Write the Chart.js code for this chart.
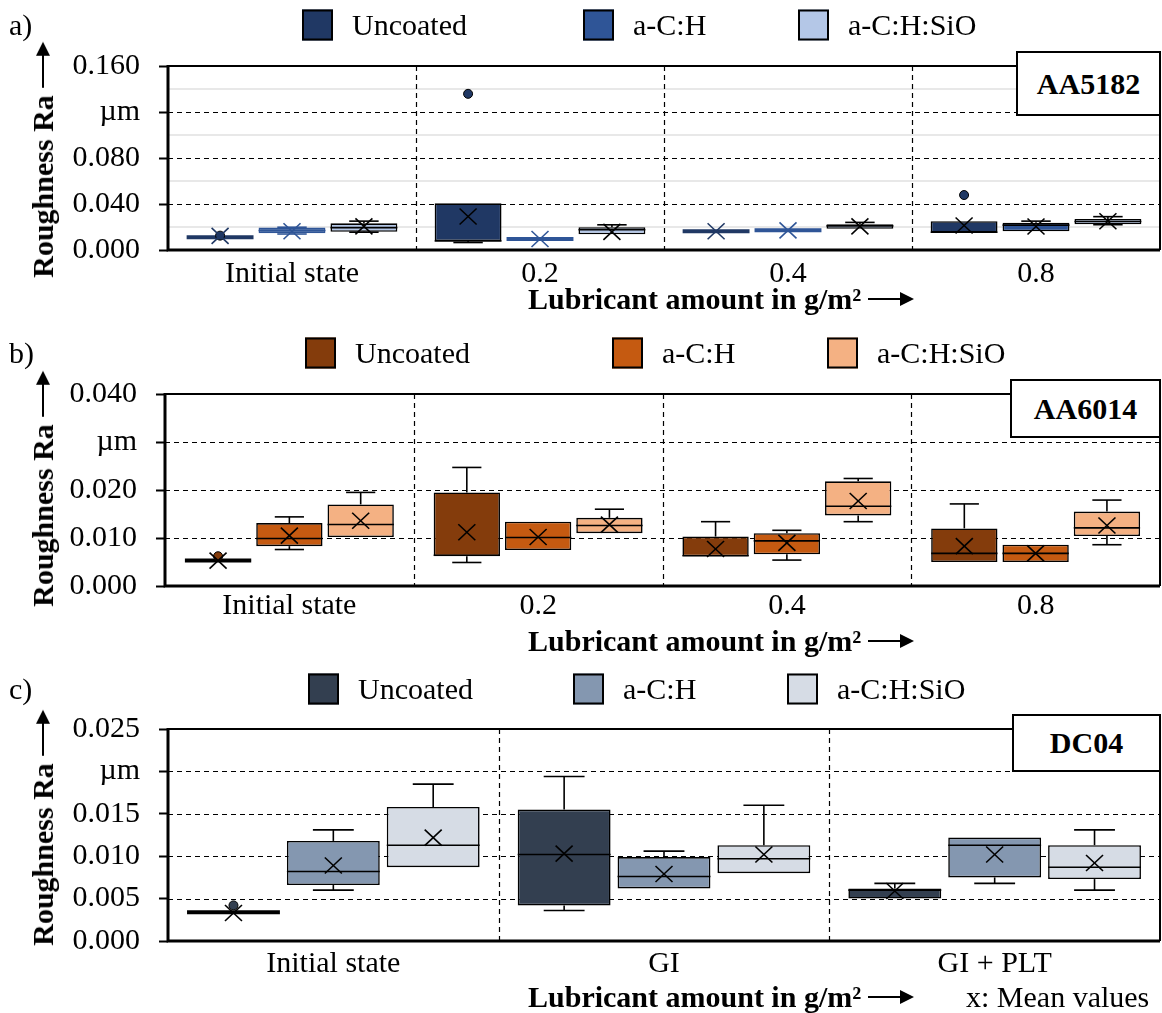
<!DOCTYPE html>
<html>
<head>
<meta charset="utf-8">
<script src="https://cdn.jsdelivr.net/npm/chart.js@4/dist/chart.umd.min.js"></script>
<style>
  body { margin: 0; background: #fff; width: 1162px; height: 1013px; position: relative; overflow: hidden;
         font-family: 'Liberation Serif', 'Times New Roman', serif; color: #000; }
  canvas { position: absolute; left: 0; }
  .t { position: absolute; font-size: 30px; line-height: 30px; white-space: nowrap; transform: translateY(-50%); }
  .sq { position: absolute; width: 31px; height: 31px; box-sizing: border-box; border: 2px solid #000; transform: translateY(-50%); }
  .tag { position: absolute; background: #fff; border: 2px solid #000; box-sizing: border-box;
         font-weight: bold; font-size: 30px; display: flex; align-items: center; justify-content: center; }
  .ttl { position: absolute; display: flex; align-items: center; font-weight: bold; font-size: 30px; white-space: nowrap; }
  .arrow { display: inline-block; position: relative; height: 2px; background: #000; margin-left: 7px; }
  .arrow::after { content: ''; position: absolute; right: -2px; top: -6px; border-left: 14px solid #000;
                  border-top: 7px solid transparent; border-bottom: 7px solid transparent; }
</style>
</head>
<body>
<script>
// ---- data ----
const seriesNames = ['Uncoated', 'a-C:H', 'a-C:H:SiO'];

// a) AA5182, boxes are [min, q1, median, q3, max]
const categoriesA = ['Initial state', '0.2', '0.4', '0.8'];
const ticksA = ['0.000', '0.040', '0.080', 'µm', '0.160'];
const aUncoated = [[0.0110, 0.0110, 0.0110, 0.0110, 0.0110], [0.0065, 0.0078, 0.0078, 0.0406, 0.0406], [0.0163, 0.0163, 0.0163, 0.0163, 0.0163], [0.0152, 0.0152, 0.0155, 0.0251, 0.0251]];
const aUncoatedMean = [0.0123, 0.0291, 0.0163, 0.0213];
const aUncoatedOutliers = [[0.0125], [0.1358], [], [0.0478]];
const aCH = [[0.0139, 0.0145, 0.0170, 0.0195, 0.0198], [0.0096, 0.0096, 0.0096, 0.0096, 0.0096], [0.0171, 0.0171, 0.0171, 0.0171, 0.0171], [0.0163, 0.0163, 0.0216, 0.0238, 0.0251]];
const aCHMean = [0.0163, 0.0096, 0.0171, 0.0204];
const aSiO = [[0.0155, 0.0158, 0.0195, 0.0232, 0.0251], [0.0136, 0.0136, 0.0176, 0.0198, 0.0219], [0.0184, 0.0184, 0.0210, 0.0224, 0.0240], [0.0220, 0.0224, 0.0248, 0.0270, 0.0290]];
const aSiOMean = [0.0206, 0.0158, 0.0206, 0.0250];

// b) AA6014
const categoriesB = ['Initial state', '0.2', '0.4', '0.8'];
const ticksB = ['0.000', '0.010', '0.020', 'µm', '0.040'];
const bUncoated = [[0.0052, 0.0052, 0.0053, 0.0054, 0.0054], [0.0049, 0.0062, 0.0064, 0.0195, 0.0247], [0.0062, 0.0062, 0.0063, 0.0103, 0.0134], [0.0050, 0.0050, 0.0068, 0.0120, 0.0171]];
const bUncoatedMean = [0.0053, 0.0112, 0.0077, 0.0083];
const bUncoatedOutliers = [[0.0062], [], [], []];
const bCH = [[0.0076, 0.0083, 0.0099, 0.0131, 0.0144], [0.0075, 0.0075, 0.0101, 0.0134, 0.0134], [0.0054, 0.0066, 0.0094, 0.0110, 0.0116], [0.0050, 0.0050, 0.0068, 0.0086, 0.0086]];
const bCHMean = [0.0105, 0.0102, 0.0090, 0.0068];
const bSiO = [[0.0102, 0.0102, 0.0128, 0.0170, 0.0195], [0.0110, 0.0110, 0.0126, 0.0142, 0.0160], [0.0134, 0.0147, 0.0166, 0.0218, 0.0224], [0.0086, 0.0104, 0.0121, 0.0155, 0.0179]];
const bSiOMean = [0.0136, 0.0128, 0.0177, 0.0126];

// c) DC04
const categoriesC = ['Initial state', 'GI', 'GI + PLT'];
const ticksC = ['0.000', '0.005', '0.010', '0.015', 'µm', '0.025'];
const cUncoated = [[0.0034, 0.0034, 0.0034, 0.0034, 0.0034], [0.0036, 0.0042, 0.0102, 0.0155, 0.0194], [0.0050, 0.0050, 0.0060, 0.0062, 0.0068]];
const cUncoatedMean = [0.0033, 0.0103, 0.0059];
const cUncoatedOutliers = [[0.0042], [], []];
const cCH = [[0.0060, 0.0066, 0.0082, 0.0118, 0.0131], [0.0062, 0.0062, 0.0076, 0.0099, 0.0106], [0.0068, 0.0075, 0.0113, 0.0122, 0.0122]];
const cCHMean = [0.0089, 0.0079, 0.0102];
const cSiO = [[0.0087, 0.0087, 0.0113, 0.0158, 0.0185], [0.0080, 0.0080, 0.0097, 0.0113, 0.0160], [0.0060, 0.0073, 0.0087, 0.0113, 0.0131]];
const cSiOMean = [0.0122, 0.0102, 0.0092];

// ---- drawing helpers ----
const FONT = "'Liberation Serif', 'Times New Roman', serif";

const decoPlugin = {
  id: 'deco',
  beforeDatasetsDraw(chart, args, opts) {
    const { ctx, chartArea: a } = chart;
    const y = chart.scales.y, x = chart.scales.x;
    ctx.save();
    // light minor lines
    ctx.strokeStyle = '#e8e8e8';
    ctx.lineWidth = 2;
    (opts.minor || []).forEach(v => {
      const py = Math.round(y.getPixelForValue(v));
      ctx.beginPath(); ctx.moveTo(a.left, py); ctx.lineTo(a.right, py); ctx.stroke();
    });
    // dashed major lines
    ctx.strokeStyle = '#000';
    ctx.lineWidth = 1.2;
    ctx.setLineDash([5, 4]);
    y.ticks.slice(1, -1).forEach(t => {
      const py = Math.round(y.getPixelForValue(t.value)) + 0.5;
      ctx.beginPath(); ctx.moveTo(a.left, py); ctx.lineTo(a.right, py); ctx.stroke();
    });
    // category separators
    for (let i = 0; i < x.ticks.length - 1; i++) {
      const px = Math.round((x.getPixelForValue(i) + x.getPixelForValue(i + 1)) / 2) + 0.5;
      ctx.beginPath(); ctx.moveTo(px, a.top); ctx.lineTo(px, a.bottom); ctx.stroke();
    }
    ctx.restore();
  },
  afterDatasetsDraw(chart) {
    const { ctx } = chart;
    const y = chart.scales.y;
    chart.data.datasets.forEach((ds, i) => {
      const meta = chart.getDatasetMeta(i);
      meta.data.forEach((bar, j) => {
        const [mn, q1, md, q3, mx] = ds.stats[j];
        const cx = bar.x, w = bar.width, cap = w * 0.22;
        const plain = ds.plain.includes(j);
        const ink = plain ? ds.backgroundColor : '#000';
        ctx.save();
        ctx.strokeStyle = ink;
        ctx.lineWidth = 1.6;
        const seg = (x1, y1, x2, y2) => { ctx.beginPath(); ctx.moveTo(x1, y1); ctx.lineTo(x2, y2); ctx.stroke(); };
        if (mx > q3) {
          seg(cx, y.getPixelForValue(q3), cx, y.getPixelForValue(mx));
          seg(cx - cap, y.getPixelForValue(mx), cx + cap, y.getPixelForValue(mx));
        }
        if (mn < q1) {
          seg(cx, y.getPixelForValue(q1), cx, y.getPixelForValue(mn));
          seg(cx - cap, y.getPixelForValue(mn), cx + cap, y.getPixelForValue(mn));
        }
        const flat = y.getPixelForValue(q1) - y.getPixelForValue(q3) < 2;
        ctx.lineWidth = flat ? 4 : 1.6;
        seg(cx - w / 2, y.getPixelForValue(md), cx + w / 2, y.getPixelForValue(md));
        // outliers
        (ds.outliers[j] || []).forEach(v => {
          ctx.beginPath();
          ctx.arc(cx, y.getPixelForValue(v), 4.5, 0, Math.PI * 2);
          ctx.fillStyle = ds.backgroundColor;
          ctx.fill();
          ctx.lineWidth = 1;
          ctx.strokeStyle = '#000';
          ctx.stroke();
        });
        // mean marker
        const my = y.getPixelForValue(ds.means[j]);
        ctx.strokeStyle = ink;
        ctx.lineWidth = 1.6;
        seg(cx - 8.5, my - 8, cx + 8.5, my + 8);
        seg(cx - 8.5, my + 8, cx + 8.5, my - 8);
        ctx.restore();
      });
    });
  },
  afterDraw(chart) {
    const { ctx, chartArea: a } = chart;
    ctx.save();
    ctx.strokeStyle = '#000';
    ctx.lineWidth = 2;
    ctx.beginPath(); ctx.moveTo(a.left, a.top); ctx.lineTo(a.right, a.top); ctx.lineTo(a.right, a.bottom); ctx.stroke();
    ctx.lineWidth = 3;
    ctx.beginPath(); ctx.moveTo(a.left, a.top - 1); ctx.lineTo(a.left, a.bottom); ctx.lineTo(a.right, a.bottom); ctx.stroke();
    ctx.restore();
  }
};

function addText(html, left, cy, cls) {
  const d = document.createElement('div');
  d.className = cls || 't';
  d.innerHTML = html;
  d.style.left = left + 'px';
  d.style.top = cy + 'px';
  document.body.appendChild(d);
  return d;
}

function makePanel(p) {
  const cv = document.createElement('canvas');
  const top = p.plotTop - 22;
  const h = 22 + (p.plotBottom - p.plotTop) + 40;
  cv.width = 1162; cv.height = h;
  cv.style.top = top + 'px';
  document.body.appendChild(cv);

  const datasets = p.series.map((s, i) => ({
    label: seriesNames[i],
    data: s.stats.map(b => [b[1], b[3]]),
    stats: s.stats, means: s.means, outliers: s.outliers || [], plain: s.plain || [],
    backgroundColor: p.colors[i],
    borderColor: ctx => (s.plain || []).includes(ctx.dataIndex) ? p.colors[i] : '#000',
    borderWidth: 1.6,
    borderSkipped: false,
    categoryPercentage: p.catPct,
    barPercentage: 0.93
  }));

  new Chart(cv, {
    type: 'bar',
    data: { labels: p.categories, datasets },
    options: {
      responsive: false, animation: false, devicePixelRatio: 1,
      layout: { padding: { top: 22, right: 2, left: 0, bottom: 0 } },
      plugins: { legend: { display: false }, tooltip: { enabled: false }, deco: { minor: p.minor || [] } },
      scales: {
        x: {
          grid: { display: false }, border: { display: false },
          ticks: { color: '#000', font: { family: FONT, size: 30 }, padding: p.labelPad, maxRotation: 0, autoSkip: false },
          afterFit: s => { s.height = 40; }
        },
        y: {
          min: 0, max: p.max,
          grid: { drawOnChartArea: false, tickLength: 9, tickWidth: 2, tickColor: '#000' },
          border: { display: false },
          ticks: { stepSize: p.step, color: '#000', font: { family: FONT, size: 30 }, padding: 19,
                   callback: (v, i) => p.tickLabels[i] },
          afterFit: s => { s.width = p.left; }
        }
      }
    },
    plugins: [decoPlugin]
  });

  // panel letter, legend, tag, titles
  addText(p.letter, 9, p.legendY);
  p.legendX.forEach((lx, i) => {
    const sq = addText('', lx, p.legendY, 'sq');
    sq.style.background = p.colors[i];
    addText(seriesNames[i], lx + 50, p.legendY);
  });
  const tag = addText(p.tag, p.tagBox[0], p.plotTop, 'tag');
  tag.style.width = (1161 - p.tagBox[0]) + 'px';
  tag.style.height = p.tagBox[1] + 'px';
  tag.style.transform = 'none';

  const yt = addText('<span>Roughness Ra</span><span class="arrow" style="width:44px"></span>', 43, p.yTitleCy, 'ttl');
  yt.style.transform = 'translate(-50%,-50%) rotate(-90deg)';
  const xt = addText('<span>Lubricant amount in g/m²</span><span class="arrow" style="width:44px"></span>', 528, p.xTitleCy, 'ttl');
  xt.style.transform = 'translateY(-50%)';
}

makePanel({
  letter: 'a)', tag: 'AA5182', categories: categoriesA, tickLabels: ticksA, max: 0.16, step: 0.04,
  minor: [0.02, 0.06, 0.10, 0.14],
  colors: ['#203864', '#2F5597', '#B4C7E7'],
  series: [
    { stats: aUncoated, means: aUncoatedMean, outliers: aUncoatedOutliers, plain: [0, 2] },
    { stats: aCH, means: aCHMean, plain: [0, 1, 2] },
    { stats: aSiO, means: aSiOMean }
  ],
  plotTop: 51, plotBottom: 250, left: 168, catPct: 0.87, labelPad: -2,
  legendY: 25, legendX: [302, 583, 798], tagBox: [1016, 65],
  yTitleCy: 161, xTitleCy: 299
});

makePanel({
  letter: 'b)', tag: 'AA6014', categories: categoriesB, tickLabels: ticksB, max: 0.04, step: 0.01,
  colors: ['#843C0C', '#C55A11', '#F4B183'],
  series: [
    { stats: bUncoated, means: bUncoatedMean, outliers: bUncoatedOutliers },
    { stats: bCH, means: bCHMean },
    { stats: bSiO, means: bSiOMean }
  ],
  plotTop: 379, plotBottom: 586, left: 165, catPct: 0.86, labelPad: -6,
  legendY: 353, legendX: [305, 612, 827], tagBox: [1010, 59],
  yTitleCy: 490, xTitleCy: 641
});

makePanel({
  letter: 'c)', tag: 'DC04', categories: categoriesC, tickLabels: ticksC, max: 0.025, step: 0.005,
  colors: ['#333F50', '#8497B0', '#D6DCE5'],
  series: [
    { stats: cUncoated, means: cUncoatedMean, outliers: cUncoatedOutliers },
    { stats: cCH, means: cCHMean },
    { stats: cSiO, means: cSiOMean }
  ],
  plotTop: 714, plotBottom: 941, left: 168, catPct: 0.906, labelPad: -3,
  legendY: 689, legendX: [308, 573, 787], tagBox: [1012, 58],
  yTitleCy: 829, xTitleCy: 997
});

addText('x: Mean values', 966, 997);
</script>
</body>
</html>
